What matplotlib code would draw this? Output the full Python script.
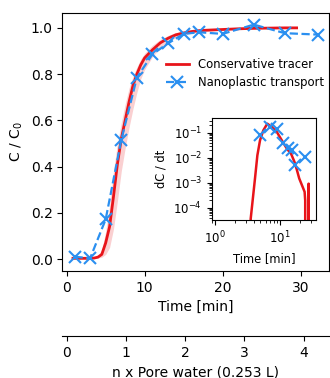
import numpy as np
import matplotlib
matplotlib.use('Agg')
import matplotlib.pyplot as plt

# conservative tracer breakthrough (C/C0) with replicate band
tracer_t = [0.8, 1.5, 2.5, 3.5, 4.0, 4.5, 5.0, 5.5, 6.0, 6.5, 7.0, 7.5, 8.0, 8.5, 9.0, 9.5,
            10, 11, 12, 13, 14, 15, 16, 17, 18, 20, 22, 24, 26, 28, 29.5]
tracer_c = [0.003, 0.003, 0.003, 0.004, 0.008, 0.02, 0.07, 0.14, 0.27, 0.41, 0.52, 0.60, 0.68,
            0.75, 0.80, 0.84, 0.87, 0.905, 0.935, 0.955, 0.97, 0.978, 0.984, 0.988, 0.99,
            0.993, 0.996, 0.998, 0.999, 1.0, 1.0]
tracer_lo = [0.0, 0.0, 0.0, 0.002, 0.004, 0.008, 0.02, 0.05, 0.13, 0.25, 0.38, 0.48, 0.57,
             0.65, 0.72, 0.78, 0.82, 0.875, 0.915, 0.94, 0.958, 0.968, 0.977, 0.982, 0.986,
             0.99, 0.993, 0.996, 0.998, 0.999, 0.999]
tracer_hi = [0.006, 0.006, 0.006, 0.008, 0.015, 0.04, 0.12, 0.23, 0.38, 0.50, 0.59, 0.67, 0.74,
             0.79, 0.83, 0.865, 0.89, 0.925, 0.95, 0.967, 0.98, 0.985, 0.99, 0.993, 0.994,
             0.996, 0.998, 0.999, 1.0, 1.001, 1.001]

# nanoplastic transport (C/C0)
nano_t = [1, 3, 5, 7, 9, 11, 13, 15, 17, 20, 24, 28, 32.2]
nano_c = [0.01, 0.003, 0.172, 0.515, 0.785, 0.886, 0.933, 0.974, 0.981, 0.974, 1.014, 0.977, 0.971]

# inset: dC/dt
dtracer_t = [1, 2, 3, 3.54, 4.12, 4.48, 4.92, 5.53, 6.36, 7.45, 8.9, 10.6, 12.7, 14.7, 16.6,
             18.1, 19.6, 21.6, 23.7, 24.2, 24.6, 27.0, 27.3, 27.6, 29.5]
dtracer_v = [0, 0, 0, 3.7e-5, 1.5e-3, 0.0126, 0.05, 0.125, 0.23, 0.17, 0.107, 0.05, 0.023,
             0.0145, 0.0068, 0.0032, 0.0015, 0.0008, 0.00044, 0.0002, 0, 0, 0.00093, 0, 0]
dnano_t = [5, 7, 9, 11, 13, 15, 17, 24]
dnano_v = [0.079, 0.169, 0.136, 0.040, 0.0245, 0.020, 0.005, 0.0107]

min_per_pore = 7.6

red = '#e8141a'
blue = '#2a8ff0'

fig = plt.figure(figsize=(3.3, 3.78), dpi=100)
ax = fig.add_axes([0.189, 0.283, 0.809, 0.683])

ax.fill_between(tracer_t, tracer_lo, tracer_hi, color=red, alpha=0.2, lw=0)
ax.plot(tracer_t, tracer_c, color=red, lw=2, label='Conservative tracer')
ax.plot(nano_t, nano_c, '--x', color=blue, lw=1.6, ms=8, mew=1.5, label='Nanoplastic transport')
ax.set_xlim(-0.56, 33.7)
ax.set_ylim(-0.052, 1.065)
ax.set_xticks([0, 10, 20, 30])
ax.set_yticks([0.0, 0.2, 0.4, 0.6, 0.8, 1.0])
ax.set_xlabel('Time [min]')
ax.set_ylabel('C / C$_0$')
ax.legend(loc='upper right', bbox_to_anchor=(1.02, 0.865), frameon=False, fontsize=8.4,
          handlelength=2.0, labelspacing=0.4)

sec = ax.secondary_xaxis(-0.252, functions=(lambda x: x / min_per_pore,
                                             lambda x: x * min_per_pore))
sec.set_xticks([0, 1, 2, 3, 4])
sec.set_xlabel('n x Pore water (0.253 L)')

ins = fig.add_axes([0.642, 0.418, 0.317, 0.270])
ins.plot(dtracer_t, dtracer_v, color=red, lw=1.8)
ins.plot(dnano_t, dnano_v, 'x', color=blue, ms=8, mew=1.5)
ins.set_xscale('log')
ins.set_yscale('log')
ins.set_xlim(0.9, 36)
ins.set_ylim(3.3e-5, 0.39)
ins.tick_params(labelsize=8.5)
ins.set_xlabel('Time [min]', fontsize=8.3)
ins.set_ylabel('dC / dt', fontsize=8.3)

fig.savefig('out.png', dpi=100)
